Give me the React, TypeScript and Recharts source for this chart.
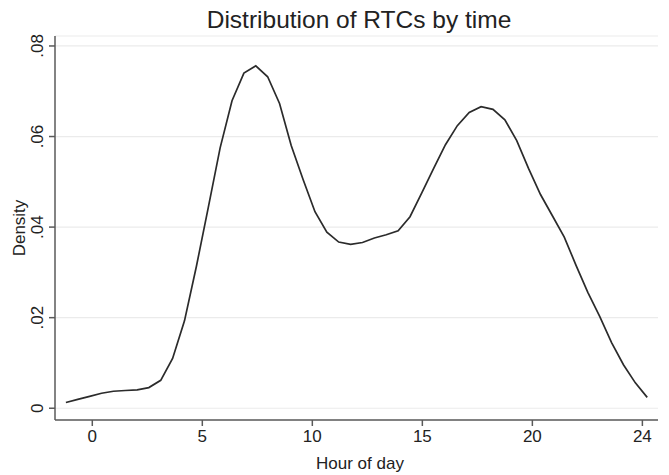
import { LineChart, Line, XAxis, YAxis, CartesianGrid } from "recharts";

// kernel density of RTC hour, 50 evaluation points
const hours = [
  -1.2, -0.66, -0.12, 0.42, 0.96, 1.5, 2.04, 2.57, 3.11, 3.65,
  4.19, 4.73, 5.27, 5.81, 6.35, 6.89, 7.43, 7.97, 8.51, 9.04,
  9.58, 10.12, 10.66, 11.2, 11.74, 12.28, 12.82, 13.36, 13.9, 14.44,
  14.98, 15.52, 16.05, 16.59, 17.13, 17.67, 18.21, 18.75, 19.29, 19.83,
  20.37, 20.91, 21.45, 21.99, 22.52, 23.06, 23.6, 24.14, 24.68, 25.22,
];
const density = [
  0.00126, 0.00194, 0.00262, 0.00331, 0.00375, 0.00392, 0.00405, 0.00456, 0.00617, 0.011,
  0.0193, 0.0313, 0.0443, 0.0575, 0.0679, 0.074, 0.0756, 0.0732, 0.0673, 0.058,
  0.0505, 0.0434, 0.0389, 0.0367, 0.0362, 0.0366, 0.0376, 0.0383, 0.0392, 0.0423,
  0.0476, 0.053, 0.0582, 0.0624, 0.0653, 0.0666, 0.066, 0.0637, 0.0591, 0.0529,
  0.0472, 0.0425, 0.0378, 0.0315, 0.0256, 0.0203, 0.0145, 0.0096, 0.0056, 0.0024,
];
const xTicks = [0, 5, 10, 15, 20, 25];
const xTickLabels = ["0", "5", "10", "15", "20", "24"];
const yTicks = [0, 0.02, 0.04, 0.06, 0.08];

const data = hours.map((h, i) => ({ hour: h, density: density[i] }));

const FONT = "'Liberation Sans', Arial, sans-serif";
const AXIS = "#5a5a5a";

const fmtY = (v: number) => (v === 0 ? "0" : v.toFixed(2).replace(/^0/, ""));

function YTick(props: any) {
  const { x, y, payload } = props;
  return (
    <text
      x={x - 4}
      y={y}
      transform={`rotate(-90, ${x - 4}, ${y})`}
      textAnchor="middle"
      fontSize={17}
      fontFamily={FONT}
      fill="#222"
    >
      {fmtY(payload.value)}
    </text>
  );
}

export default function App() {
  return (
    <div style={{ position: "absolute", left: 0, top: 0, width: 669, height: 475, background: "#fff" }}>
      <LineChart
        width={669}
        height={475}
        data={data}
        margin={{ top: 36, right: 11, left: 0, bottom: 24 }}
      >
        <CartesianGrid horizontal vertical={false} stroke="#ebebeb" strokeWidth={1.2} />
        <XAxis
          type="number"
          dataKey="hour"
          domain={[-1.695, 25.71]}
          ticks={xTicks}
          tickFormatter={(v: number) => xTickLabels[xTicks.indexOf(v)] ?? String(v)}
          height={31}
          tickSize={6}
          tickMargin={4}
          stroke={AXIS}
          strokeWidth={1.5}
          tick={{ fill: "#222", fontSize: 17, fontFamily: FONT }}
          allowDataOverflow
        />
        <YAxis
          type="number"
          domain={[-0.0026, 0.0822]}
          ticks={yTicks}
          width={55}
          tickSize={6}
          tickMargin={2}
          stroke={AXIS}
          strokeWidth={1.5}
          tick={<YTick />}
          allowDataOverflow
        />
        <Line
          type="linear"
          dataKey="density"
          stroke="#2b2b2b"
          strokeWidth={1.7}
          dot={false}
          isAnimationActive={false}
        />
      </LineChart>
      <svg
        width={669}
        height={475}
        style={{ position: "absolute", left: 0, top: 0, pointerEvents: "none" }}
      >
        <text x={359} y={28} textAnchor="middle" fontSize={24.5} fontFamily={FONT} fill="#222">
          Distribution of RTCs by time
        </text>
        <text
          x={25}
          y={228}
          transform="rotate(-90, 25, 228)"
          textAnchor="middle"
          fontSize={17}
          fontFamily={FONT}
          fill="#222"
        >
          Density
        </text>
        <text x={360} y={469} textAnchor="middle" fontSize={17} fontFamily={FONT} fill="#222">
          Hour of day
        </text>
      </svg>
    </div>
  );
}
